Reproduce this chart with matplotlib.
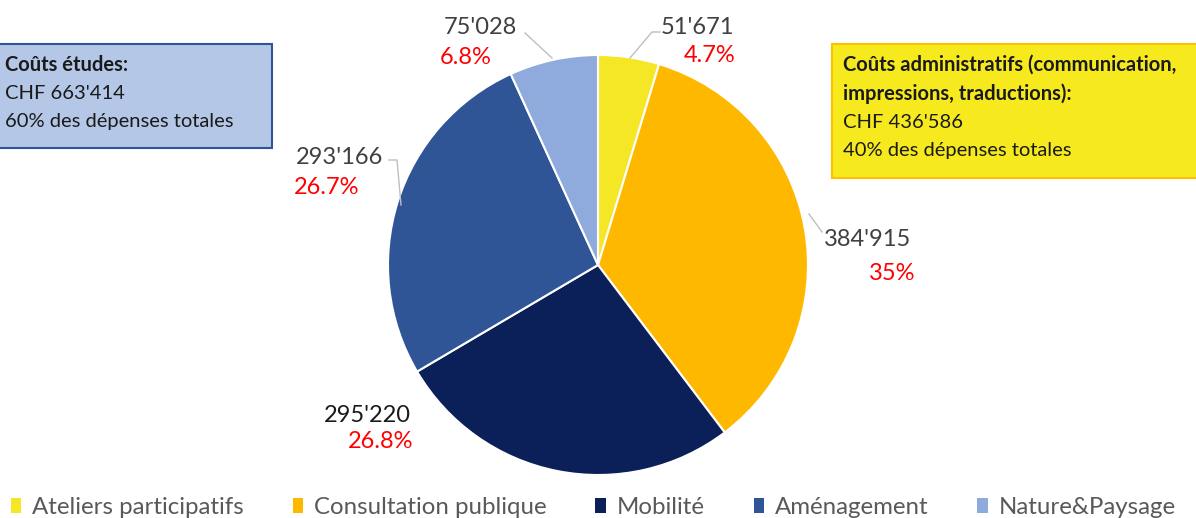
# Pie chart of project costs (CHF), with two summary boxes

import matplotlib.pyplot as plt
from matplotlib.patches import Rectangle

plt.rcParams['font.family'] = ['Lato', 'DejaVu Sans']

# Data
categories = ["Ateliers participatifs", "Consultation publique", "Mobilité",
              "Aménagement", "Nature&Paysage"]
values = [51671, 384915, 295220, 293166, 75028]
value_labels = ["51'671", "384'915", "295'220", "293'166", "75'028"]
pct_labels = ["4.7%", "35%", "26.8%", "26.7%", "6.8%"]

box_left = ["Coûts études:", "CHF 663'414", "60% des dépenses totales"]
box_right = ["Coûts administratifs (communication,", "impressions, traductions):",
             "CHF 436'586", "40% des dépenses totales"]

# Styling
colors = ["#F5E626", "#FFB800", "#0B1F59", "#2F5597", "#8FAADC"]
W, H = 1196, 518

fig = plt.figure(figsize=(W / 100, H / 100), dpi=100)
ax = fig.add_axes([0, 0, 1, 1])

wedges, _ = ax.pie(values, colors=colors, startangle=90, counterclock=False,
                   center=(598, H - 265), radius=210,
                   wedgeprops=dict(edgecolor="white", linewidth=1.5))
ax.set_xlim(0, W)
ax.set_ylim(0, H)
ax.set_aspect("auto")
ax.axis("off")

# label layout (pixel positions, y from top): value label, percent label
val_pos = [(697, 27), (868, 240), (367, 415), (340, 157), (480, 27)]
pct_pos = [(710, 56), (892, 273), (381, 442), (327, 188), (466, 57)]
val_colors = ["#404040", "#404040", "#1a1a1a", "#404040", "#404040"]
for i in range(len(values)):
    ax.text(val_pos[i][0], H - val_pos[i][1], value_labels[i], fontsize=17,
            color=val_colors[i], ha="center", va="center")
    ax.text(pct_pos[i][0], H - pct_pos[i][1], pct_labels[i], fontsize=17,
            color="#FF0000", ha="center", va="center")

# leader lines
lc = "#BFBFBF"
ax.plot([525, 552], [H - 33, H - 58], color=lc, lw=1)
ax.plot([660, 652, 630], [H - 32, H - 32, H - 58], color=lc, lw=1)
ax.plot([389, 397, 401], [H - 160, H - 160, H - 205], color=lc, lw=1)
ax.plot([809, 822], [H - 214, H - 232], color=lc, lw=1)

# summary boxes
ax.add_patch(Rectangle((-2, H - 148), 274, 104, facecolor="#B4C7E7",
                       edgecolor="#2F5597", lw=1.5))
ax.add_patch(Rectangle((832, H - 178), 370, 134, facecolor="#F6EA1E",
                       edgecolor="#FFC000", lw=1.5))
for j, t in enumerate(box_left):
    ax.text(5, H - 65 - j * 28.5, t, fontsize=14.5, color="#1a1a1a",
            fontweight="bold" if j == 0 else "normal", va="center")
for j, t in enumerate(box_right):
    ax.text(843, H - 65 - j * 28.5, t, fontsize=14.5, color="#1a1a1a",
            fontweight="bold" if j < 2 else "normal", va="center")

# legend
leg = fig.legend(wedges, categories, loc="lower left", ncol=5, frameon=False,
                 bbox_to_anchor=(0.005, -0.01), fontsize=17.3, labelcolor="#595959",
                 handlelength=0.42, handleheight=0.58, handletextpad=0.45,
                 columnspacing=2.05, borderaxespad=0.0, borderpad=0.2)
for h in leg.legend_handles:
    h.set_edgecolor("none")

fig.savefig("out.png", dpi=100)
